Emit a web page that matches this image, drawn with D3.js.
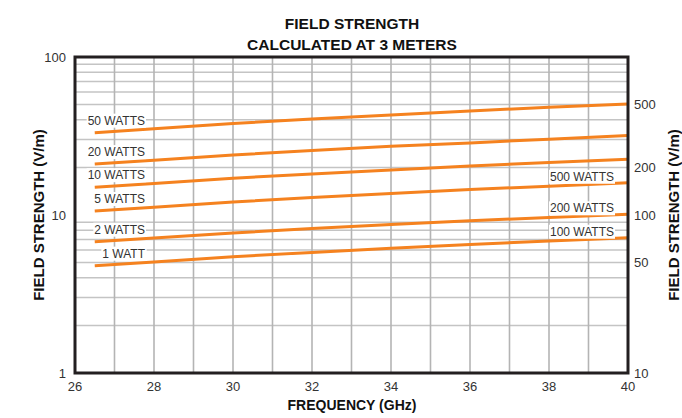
<!DOCTYPE html>
<html>
<head>
<meta charset="utf-8">
<script src="https://cdn.jsdelivr.net/npm/d3@7"></script>
<style>
  html, body { margin: 0; padding: 0; background: #fff; }
  svg { display: block; font-family: "Liberation Sans", Arial, Helvetica, sans-serif; }
</style>
</head>
<body>
<svg id="chart" width="682" height="418"></svg>
<script>
// Frequencies (GHz) at which each curve is sampled
const freqs = [26.5, 28, 30, 32, 34, 36, 38, 40];

// Field strength (V/m) at 3 m for each forward power
const w50 = [33.2, 35.2, 37.9, 40.5, 43.0, 45.6, 48.0, 50.5];
const w20 = [21.0, 22.2, 24.0, 25.6, 27.2, 28.6, 30.2, 31.8];
const w10 = [15.0, 15.8, 17.1, 18.2, 19.3, 20.4, 21.5, 22.5];
const w5  = [10.6, 11.2, 12.1, 12.9, 13.7, 14.5, 15.2, 16.0];
const w2  = [6.78, 7.15, 7.70, 8.20, 8.70, 9.20, 9.65, 10.1];
const w1  = [4.78, 5.05, 5.45, 5.80, 6.15, 6.50, 6.85, 7.18];

const seriesValues = [w50, w20, w10, w5, w2, w1];
// Left-hand labels read against the left axis
const leftLabels = ["50 WATTS", "20 WATTS", "10 WATTS", "5 WATTS", "2 WATTS", "1 WATT"];
// Right-hand labels read against the right axis (ten times the left scale)
const rightLabels = [null, null, null, "500 WATTS", "200 WATTS", "100 WATTS"];

const xTicks = [26, 28, 30, 32, 34, 36, 38, 40];
const yLeftTicks = [1, 10, 100];
const yRightTicks = [10, 50, 100, 200, 500];

const title1 = "FIELD STRENGTH";
const title2 = "CALCULATED AT 3 METERS";
const xTitle = "FREQUENCY (GHz)";
const yTitle = "FIELD STRENGTH (V/m)";

const svg = d3.select("#chart");
const m = { left: 75, right: 628, top: 57, bottom: 373 };

const x = d3.scaleLinear().domain([26, 40]).range([m.left, m.right]);
const y = d3.scaleLog().domain([1, 100]).range([m.bottom, m.top]);
const yR = d3.scaleLog().domain([10, 1000]).range([m.bottom, m.top]);

// Horizontal grid: 2..9 within each decade
const hGrid = [];
[1, 10].forEach(d => { for (let k = 2; k <= 9; k++) hGrid.push(d * k); });
svg.append("g").selectAll("line").data(hGrid).join("line")
  .attr("x1", m.left).attr("x2", m.right)
  .attr("y1", d => y(d)).attr("y2", d => y(d))
  .attr("stroke", "#c4c4c4").attr("stroke-width", 1.5);

// Vertical grid every 1 GHz
svg.append("g").selectAll("line").data(d3.range(27, 40)).join("line")
  .attr("x1", d => x(d)).attr("x2", d => x(d))
  .attr("y1", m.top).attr("y2", m.bottom)
  .attr("stroke", "#b4b4b4").attr("stroke-width", 1.6);

// Curves
const line = d3.line().x((d, i) => x(freqs[i])).y(d => y(d));
svg.append("g").selectAll("path").data(seriesValues).join("path")
  .attr("d", line)
  .attr("fill", "none")
  .attr("stroke", "#f5821f")
  .attr("stroke-width", 3)
  .attr("stroke-linecap", "butt");

// Labels with white backing boxes
function boxedLabel(g, text, xPos, yPos) {
  const t = g.append("text")
    .attr("x", xPos).attr("y", yPos)
    .attr("text-anchor", "end")
    .attr("dominant-baseline", "central")
    .attr("font-size", 12)
    .attr("fill", "#333")
    .text(text);
  const bb = t.node().getBBox();
  g.insert("rect", "text")
    .attr("x", bb.x - 1).attr("y", bb.y)
    .attr("width", bb.width + 2).attr("height", bb.height)
    .attr("fill", "#fff");
}
const lbl = svg.append("g");
seriesValues.forEach((vals, i) => {
  const g = lbl.append("g");
  boxedLabel(g, leftLabels[i], 145, y(vals[0]) - 12);
  if (rightLabels[i]) {
    const g2 = lbl.append("g");
    boxedLabel(g2, rightLabels[i], 614, y(vals[vals.length - 1]) - 6);
  }
});

// Frame
svg.append("rect")
  .attr("x", m.left).attr("y", m.top)
  .attr("width", m.right - m.left).attr("height", m.bottom - m.top)
  .attr("fill", "none").attr("stroke", "#231f20").attr("stroke-width", 3);

// Tick labels
const tickFont = 13;
svg.append("g").selectAll("text").data(xTicks).join("text")
  .attr("x", d => x(d)).attr("y", 386)
  .attr("text-anchor", "middle").attr("dominant-baseline", "central")
  .attr("font-size", tickFont).attr("fill", "#333")
  .text(d => d);
svg.append("g").selectAll("text").data(yLeftTicks).join("text")
  .attr("x", 66).attr("y", d => y(d))
  .attr("text-anchor", "end").attr("dominant-baseline", "central")
  .attr("font-size", tickFont).attr("fill", "#333")
  .text(d => d);
svg.append("g").selectAll("text").data(yRightTicks).join("text")
  .attr("x", 634).attr("y", d => yR(d))
  .attr("text-anchor", "start").attr("dominant-baseline", "central")
  .attr("font-size", tickFont).attr("fill", "#333")
  .text(d => d);

// Titles
svg.append("text").attr("x", 352).attr("y", 29)
  .attr("text-anchor", "middle").attr("font-size", 15.5).attr("font-weight", "bold")
  .attr("fill", "#111").text(title1);
svg.append("text").attr("x", 352).attr("y", 50)
  .attr("text-anchor", "middle").attr("font-size", 15.5).attr("font-weight", "bold")
  .attr("fill", "#111").text(title2);
svg.append("text").attr("x", 352).attr("y", 410)
  .attr("text-anchor", "middle").attr("font-size", 14).attr("font-weight", "bold")
  .attr("fill", "#111").text(xTitle);
svg.append("text")
  .attr("transform", "translate(44,215) rotate(-90)")
  .attr("text-anchor", "middle").attr("font-size", 15).attr("font-weight", "bold")
  .attr("fill", "#111").text(yTitle);
svg.append("text")
  .attr("transform", "translate(679,215) rotate(-90)")
  .attr("text-anchor", "middle").attr("font-size", 15).attr("font-weight", "bold")
  .attr("fill", "#111").text(yTitle);
</script>
</body>
</html>
